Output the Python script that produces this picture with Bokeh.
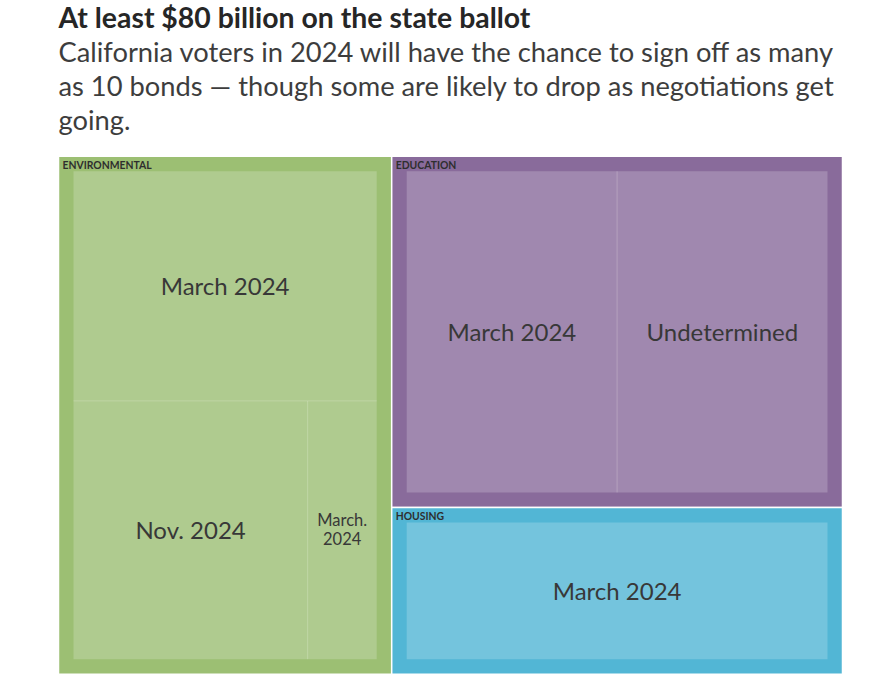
from bokeh.plotting import figure
from bokeh.models import Range1d
from bokeh.core.properties import value
from bokeh.embed import file_html
from bokeh.resources import INLINE

# ---------------- data ----------------
TITLE = "At least $80 billion on the state ballot"
SUBTITLE_LINES = [
    "California voters in 2024 will have the chance to sign off as many",
    "as 10 bonds \u2014 though some are likely to drop as negotiations get",
    "going.",
]

groups = ["ENVIRONMENTAL", "EDUCATION", "HOUSING"]
env_labels = ["March 2024", "Nov. 2024", "March.\n2024"]
env_values = [16.0, 13.9, 4.1]          # $ billions
edu_labels = ["March 2024", "Undetermined"]
edu_values = [15.6, 15.6]
hou_labels = ["March 2024"]
hou_values = [14.8]

group_labels = [env_labels, edu_labels, hou_labels]
group_values = [env_values, edu_values, hou_values]
group_colors = ["#9CBF73", "#896B9B", "#52B6D5"]

FONT = "Lato"

# ---------------- squarified layout ----------------
def squarify(vals, x0, y0, x1, y1, ratio=1.0):
    rects = [None] * len(vals)
    n = len(vals)
    remaining = float(sum(vals))
    i0 = i1 = 0
    while i0 < n:
        dx, dy = x1 - x0, y1 - y0
        s = vals[i1]
        i1 += 1
        mn = mx = s
        alpha = max(dy / dx, dx / dy) / (remaining * ratio)
        beta = s * s * alpha
        min_ratio = max(mx / beta, beta / mn)
        while i1 < n:
            nv = vals[i1]
            s += nv
            mn = min(mn, nv)
            mx = max(mx, nv)
            beta = s * s * alpha
            new_ratio = max(mx / beta, beta / mn)
            if new_ratio > min_ratio:
                s -= nv
                break
            min_ratio = new_ratio
            i1 += 1
        row = list(range(i0, i1))
        if dx < dy:
            yb = y0 + dy * s / remaining
            xx = x0
            for i in row:
                w = dx * vals[i] / s
                rects[i] = (xx, y0, xx + w, yb)
                xx += w
            y0 = yb
        else:
            xr = x0 + dx * s / remaining
            yy = y0
            for i in row:
                h = dy * vals[i] / s
                rects[i] = (x0, yy, xr, yy + h)
                yy += h
            x0 = xr
        remaining -= s
        i0 = i1
    return rects


W, H = 864, 680
ROOT = (58.0, 155.7, 842.0, 673.7)
PAD = 15.0

p = figure(width=W, height=H, output_backend="svg", toolbar_location=None,
           x_range=Range1d(0, W), y_range=Range1d(H, 0), min_border=0)
p.axis.visible = False
p.grid.visible = False
p.outline_line_color = None
p.background_fill_color = "white"
p.border_fill_color = "white"

totals = [sum(v) for v in group_values]
grects = squarify(totals, *ROOT)

# group rectangles
p.quad(left=[r[0] for r in grects], right=[r[2] for r in grects],
       top=[r[1] for r in grects], bottom=[r[3] for r in grects],
       fill_color=group_colors, line_color="white", line_width=1.5)

p.text(x=[r[0] + 4 for r in grects], y=[r[1] + 8.3 for r in grects], text=groups,
       text_font=value(FONT), text_font_style="bold", text_font_size="10.4px",
       text_color="#2e2e2e", text_align="left", text_baseline="middle")

cl, cr, ct, cb = [], [], [], []
sx0, sy0, sx1, sy1 = [], [], [], []
tx, ty, tt, tsz = [], [], [], []
for g, r in enumerate(grects):
    ix0, iy0, ix1, iy1 = r[0] + PAD, r[1] + PAD, r[2] - PAD, r[3] - PAD
    crects = squarify(group_values[g], ix0, iy0, ix1, iy1)
    for lab, c in zip(group_labels[g], crects):
        cl.append(c[0]); cr.append(c[2]); ct.append(c[1]); cb.append(c[3])
        if c[2] < ix1 - 0.5:
            sx0.append(c[2]); sy0.append(c[1]); sx1.append(c[2]); sy1.append(c[3])
        if c[3] < iy1 - 0.5:
            sx0.append(c[0]); sy0.append(c[3]); sx1.append(c[2]); sy1.append(c[3])
        lines = lab.split("\n")
        small = (c[2] - c[0]) < 120
        fs = 16.5 if small else 24
        lh = 18 if small else 30
        cx = (c[0] + c[2]) / 2
        cy = (c[1] + c[3]) / 2 - 0.8
        for k, line in enumerate(lines):
            tx.append(cx)
            ty.append(cy + (k - (len(lines) - 1) / 2) * lh)
            tt.append(line)
            tsz.append(f"{fs}px")

p.quad(left=cl, right=cr, top=ct, bottom=cb, fill_color="white", fill_alpha=0.2,
       line_color=None)
p.segment(x0=sx0, y0=sy0, x1=sx1, y1=sy1, line_color="white", line_alpha=0.22,
          line_width=1)

p.text(x=tx, y=ty, text=tt, text_font=value(FONT), text_font_size=tsz,
       text_color="#383838", text_align="center", text_baseline="middle")

# title and subtitle
p.text(x=[58], y=[16.5], text=[TITLE], text_font=value(FONT), text_font_style="bold",
       text_font_size="28.4px", text_color="#262626", text_align="left",
       text_baseline="middle")
p.text(x=[58] * len(SUBTITLE_LINES), y=[51 + 34 * i for i in range(len(SUBTITLE_LINES))],
       text=SUBTITLE_LINES, text_font=value(FONT), text_font_size="27.3px",
       text_color="#3d3d3d", text_align="left", text_baseline="middle")

open("out.html", "w").write(file_html(p, INLINE))
